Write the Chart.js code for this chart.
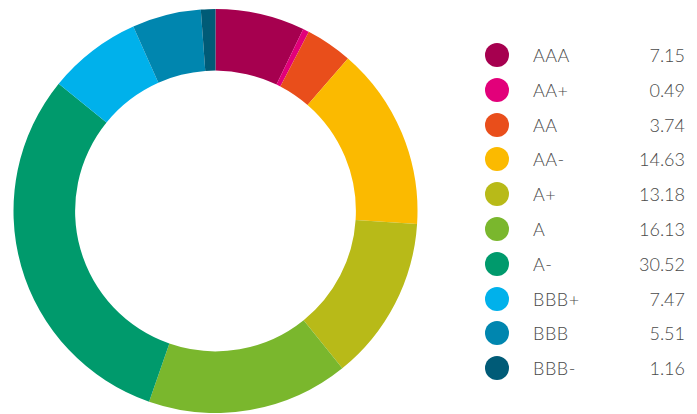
<!DOCTYPE html>
<html>
<head>
<meta charset="utf-8">
<script src="https://cdn.jsdelivr.net/npm/chart.js@4"></script>
<style>
    body { margin: 0; background: #fff; width: 697px; height: 414px; overflow: hidden; font-family: "Lato", sans-serif; }
    #chart-wrap { position: absolute; left: 13px; top: 9px; width: 405px; height: 404px; }
    #legend { position: absolute; left: 485px; top: 38px; width: 200px; }
    .row { position: relative; height: 34.8px; font-size: 18px; font-weight: 300; color: #4a4a4a; }
    .dot { position: absolute; left: 0; top: 5px; width: 24px; height: 24px; border-radius: 50%; }
    .lbl { position: absolute; left: 48px; top: 6px; letter-spacing: 0.5px; }
    .val { position: absolute; right: 0; top: 6px; }
</style>
</head>
<body>
<div id="chart-wrap"><canvas id="ratingChart"></canvas></div>
<div id="legend"></div>
<script>
const ratings = ['AAA', 'AA+', 'AA', 'AA-', 'A+', 'A', 'A-', 'BBB+', 'BBB', 'BBB-'];
const weights = [7.15, 0.49, 3.74, 14.63, 13.18, 16.13, 30.52, 7.47, 5.51, 1.16];
const colors = ['#A6004F', '#E2007A', '#E94E1B', '#FBBA00', '#B8BA18', '#7AB72D', '#009A6C', '#00B1EB', '#0086AF', '#005B77'];

function buildLegend() {
    const legend = document.getElementById('legend');
    ratings.forEach((r, i) => {
        const row = document.createElement('div');
        row.className = 'row';
        row.innerHTML = '<span class="dot" style="background:' + colors[i] + '"></span>' +
            '<span class="lbl">' + r + '</span>' +
            '<span class="val">' + weights[i].toFixed(2) + '</span>';
        legend.appendChild(row);
    });
}

function initializeChart() {
    const ctx = document.getElementById('ratingChart').getContext('2d');
    new Chart(ctx, {
        type: 'doughnut',
        data: {
            labels: ratings,
            datasets: [{
                data: weights,
                backgroundColor: colors,
                borderWidth: 0
            }]
        },
        options: {
            responsive: true,
            maintainAspectRatio: false,
            animation: false,
            cutout: '69.5%',
            plugins: {
                legend: { display: false },
                tooltip: { enabled: false }
            }
        }
    });
}

buildLegend();
initializeChart();
</script>
</body>
</html>
